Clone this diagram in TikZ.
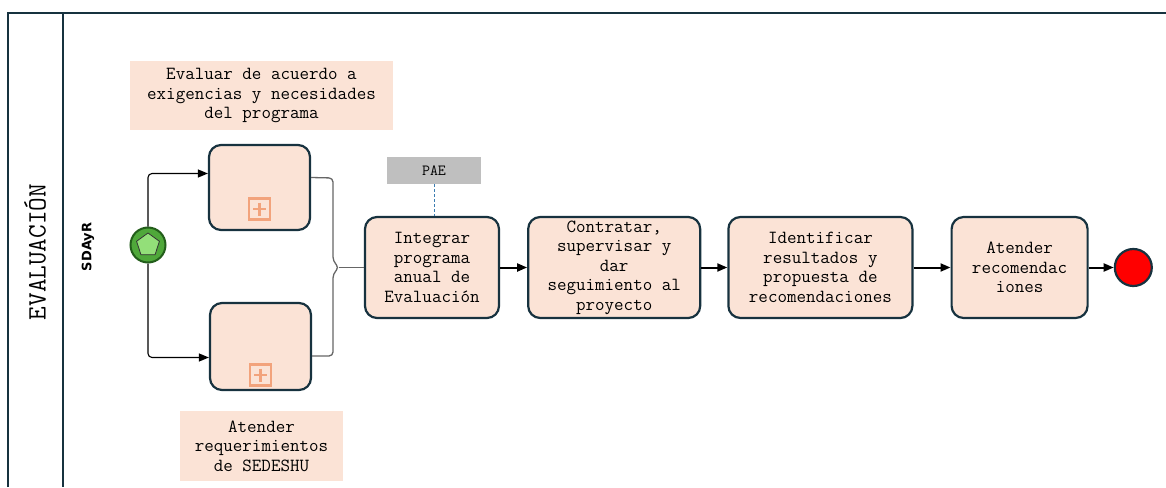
\documentclass[tikz,border=0pt]{standalone}
\usepackage{fontspec}
\newfontfamily\lanefont{DejaVu Sans}
\usetikzlibrary{arrows.meta, shapes.geometric, positioning}
\definecolor{edge}{HTML}{17323F}
\definecolor{taskfill}{HTML}{FBE3D6}
\definecolor{subcol}{HTML}{F2A37C}
\definecolor{startfill}{HTML}{4FA83A}
\definecolor{startedge}{HTML}{235E1B}
\definecolor{pentfill}{HTML}{93DF79}
\definecolor{datafill}{HTML}{BFBFBF}
\definecolor{assoc}{HTML}{3B7CB0}
\definecolor{endfill}{HTML}{FF0000}

\begin{document}
\begin{tikzpicture}[
      x=1pt, y=-1pt,
      node distance=28pt,
      lane/.style={draw=edge, line width=2pt},
      task/.style={draw=edge, fill=taskfill, line width=2.2pt, rounded corners=12pt,
                   minimum height=101pt, inner sep=0pt, align=center,
                   font=\ttfamily\fontsize{18.5}{19.5}\selectfont},
      note/.style={fill=taskfill, inner sep=0pt, align=center,
                   font=\ttfamily\fontsize{18.5}{19.5}\selectfont},
      data/.style={fill=datafill, minimum width=94pt, minimum height=27pt,
                   font=\ttfamily\fontsize{15.5}{15.5}\selectfont},
      subm/.style={draw=subcol, line width=2.4pt, minimum size=21pt, inner sep=0pt},
      split/.style={-{Triangle[length=10pt,width=8pt]}, line width=1.1pt, rounded corners=4pt},
      flow/.style={-{Triangle[length=10pt,width=8pt]}, line width=2pt},
      grp/.style={draw=black!60, line width=1.3pt, rounded corners=4pt},
      assocline/.style={draw=assoc, line width=1pt, dash pattern=on 3pt off 2pt}
    ]
    \useasboundingbox (0,0) rectangle (1166,487);
    % pool and lane
    \draw[lane] (8,487) -- (8,13) -- (1166,13);
    \draw[lane] (63,13) -- (63,487);
    \node[rotate=90, font=\ttfamily\fontsize{26.5}{26.5}\selectfont] (pool) at (35,252) {EVALUACIÓN};
    \node[rotate=90, font=\lanefont\bfseries\fontsize{13}{13}\selectfont] (lanename) at (88,247) {SDAyR};

    % start event
    \node[circle, fill=startfill, draw=startedge, line width=2pt, minimum size=35pt] (start) at (148,245) {};
    \node[regular polygon, regular polygon sides=5, draw=black!80, fill=pentfill,
          minimum size=24pt, inner sep=0pt, line width=0.8pt] (pent) at (start.center) {};

    % sub-processes
    \node[task, minimum width=101pt, minimum height=85pt] (a1) at (259.5,187.5) {};
    \node[task, minimum width=101pt, minimum height=87pt] (b1) at (260.5,346.5) {};
    \node[subm] (a1p) at ([yshift=22pt]a1.south) {};
    \node[subm] (b1p) at ([yshift=16pt]b1.south) {};
    \foreach \m in {a1p,b1p}
      \draw[draw=subcol, line width=2.4pt] (\m.center) +(-6.5,0) -- +(6.5,0) (\m.center) +(0,-6.5) -- +(0,6.5);

    % annotations
    \node[note, minimum width=263pt, minimum height=69pt] (n1) at (261.5,95.5)
      {Evaluar de acuerdo a\\exigencias y necesidades\\del programa};
    \node[note, minimum width=163pt, minimum height=70pt] (n2) at (261.5,446)
      {Atender\\requerimientos\\de SEDESHU};

    % main tasks
    \node[task, minimum width=134pt] (i1) at (432,267.5) {Integrar\\programa\\anual de\\Evaluación};
    \node[task, minimum width=172pt, right=27pt of i1] (c1) {Contratar,\\supervisar y\\dar\\seguimiento al\\proyecto};
    \node[task, minimum width=184pt, right=26pt of c1] (d1) {Identificar\\resultados y\\propuesta de\\recomendaciones};
    \node[task, minimum width=136pt, right=37pt of d1] (e1) {Atender\\recomendac\\iones};
    \node[circle, fill=endfill, draw=edge, line width=2.2pt, minimum size=37pt, right=25pt of e1] (stop) {};

    % data object
    \node[data] (pae) at (434,170.5) {PAE};
    \draw[assocline] (pae.south) -- (pae.south |- i1.north);

    % connectors
    \draw[split] (start.north) |- ([yshift=14pt]a1.west);
    \draw[split] (start.south) |- ([yshift=-11pt]b1.west);
    \coordinate (tip) at (339,267.5);
    \draw[grp] ([yshift=10pt]a1.east) -- (333,178) -- (333,261) -- (tip) -- (333,274) -- (333,356) -- ([yshift=-9.5pt]b1.east);
    \draw[grp] (tip) -- (i1.west);
    \draw[flow] (i1) -- (c1); \draw[flow] (c1) -- (d1);
    \draw[flow] (d1) -- (e1); \draw[flow] (e1) -- (stop);
  \end{tikzpicture}
\end{document}
